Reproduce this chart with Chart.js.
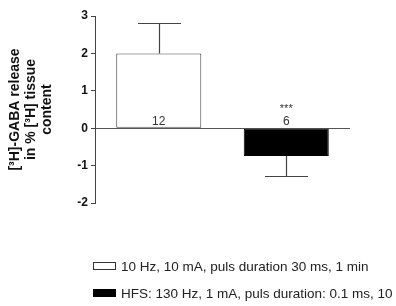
<!DOCTYPE html>
<html>
<head>
<meta charset="utf-8">
<script src="https://cdn.jsdelivr.net/npm/chart.js@4.4.0/dist/chart.umd.min.js"></script>
<style>
  html, body { margin: 0; padding: 0; background: #fff; overflow: hidden; }
  #wrap { position: relative; width: 396px; height: 306px; overflow: hidden; }
  canvas { position: absolute; left: 0; top: 0; }
  .leg { position: absolute; left: 93px; font-family: "Liberation Sans", Arial, sans-serif; font-size: 13.5px; color: #222; white-space: nowrap; line-height: 15px; }
  .box { display: inline-block; width: 23px; height: 8px; border: 1px solid #333; vertical-align: 1px; margin-right: 5px; box-sizing: border-box; }
</style>
</head>
<body>
<div id="wrap">
  <canvas id="c" width="396" height="306"></canvas>
  <div class="leg" id="leg1" style="top:259px"><span class="box" style="background:#fff"></span>10 Hz, 10 mA, puls duration 30 ms, 1 min</div>
  <div class="leg" id="leg2" style="top:286px"><span class="box" style="background:#000;border-color:#000"></span>HFS: 130 Hz, 1 mA, puls duration: 0.1 ms, 10 min</div>
</div>
<script>
const categories = ["10 Hz, 10 mA, puls duration 30 ms, 1 min", "HFS: 130 Hz, 1 mA, puls duration: 0.1 ms, 10 min"];
const means = [2.0, -0.74];
const sems = [0.82, 0.54];
const nLabels = ["12", "6"];
const sigLabels = ["", "***"];
const fills = ["#ffffff", "#000000"];
const yTicks = [-2, -1, 0, 1, 2, 3];
const yTitle = ["[\u00B3H]-GABA release", "in % [\u00B3H] tissue", "content"];

const errPlugin = {
  id: 'errbars',
  afterDatasetsDraw(chart) {
    const ctx = chart.ctx;
    const meta = chart.getDatasetMeta(0);
    const ys = chart.scales.y;
    ctx.save();
    meta.data.forEach((bar, i) => {
      const v = means[i];
      const e = sems[i];
      const end = v >= 0 ? v + e : v - e;
      const x = Math.round(bar.x) + 0.5;
      const y0 = ys.getPixelForValue(v);
      const y1 = Math.round(ys.getPixelForValue(end)) + 0.5;
      ctx.strokeStyle = '#444';
      ctx.lineWidth = 1.2;
      ctx.beginPath();
      ctx.moveTo(x, y0);
      ctx.lineTo(x, y1);
      ctx.moveTo(x - 21.5, y1);
      ctx.lineTo(x + 21.5, y1);
      ctx.stroke();
      const zy = ys.getPixelForValue(0);
      ctx.fillStyle = '#333';
      ctx.textAlign = 'center';
      ctx.textBaseline = 'alphabetic';
      ctx.font = '12px "Liberation Sans", Arial, sans-serif';
      ctx.fillText(nLabels[i], bar.x, zy - 3);
      if (sigLabels[i]) {
        ctx.font = '11px "Liberation Sans", Arial, sans-serif';
        ctx.fillText(sigLabels[i], bar.x, zy - 16);
      }
    });
    ctx.restore();
  }
};

new Chart(document.getElementById('c'), {
  type: 'bar',
  data: {
    labels: categories,
    datasets: [{
      data: means,
      backgroundColor: fills,
      borderColor: ['#444', '#000'],
      borderWidth: 1,
      borderSkipped: false,
      categoryPercentage: 1,
      barPercentage: 0.667
    }]
  },
  options: {
    responsive: false,
    animation: false,
    devicePixelRatio: 1,
    layout: { padding: { top: 16, right: 46, bottom: 103, left: 0 } },
    plugins: { legend: { display: false }, tooltip: { enabled: false } },
    scales: {
      x: { display: false, offset: true },
      y: {
        min: -2, max: 3,
        afterBuildTicks(s) { s.ticks = yTicks.map(v => ({ value: v })); },
        afterFit(s) { s.width = 95; },
        border: { display: true, color: '#444', width: 1 },
        grid: {
          drawOnChartArea: true,
          color: (c) => (c.tick && c.tick.value === 0) ? '#555' : 'rgba(0,0,0,0)',
          tickColor: '#444',
          tickLength: 4,
          lineWidth: 1
        },
        ticks: {
          color: '#111',
          padding: 3,
          font: { family: '"Liberation Sans", Arial, sans-serif', size: 12, weight: 'bold' }
        },
        title: {
          display: true,
          text: yTitle,
          color: '#111',
          padding: { top: 7 },
          font: { family: '"Liberation Sans", Arial, sans-serif', size: 14, weight: 'bold', lineHeight: 1.15 }
        }
      }
    }
  },
  plugins: [errPlugin]
});
</script>
</body>
</html>
